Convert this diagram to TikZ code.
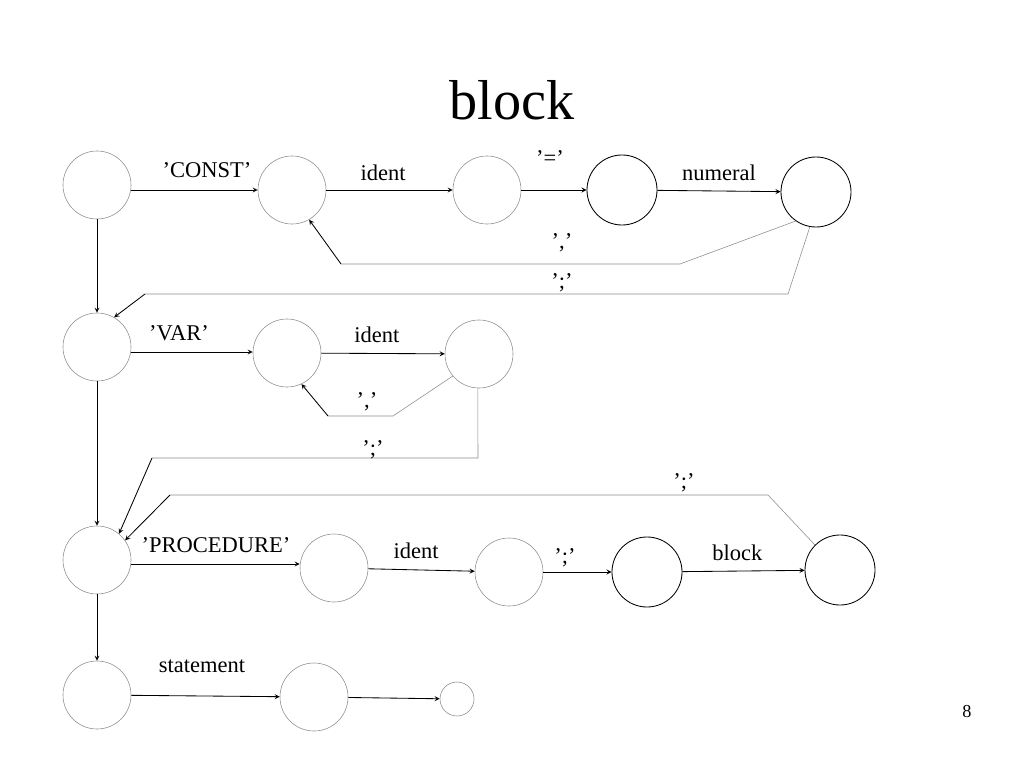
\documentclass[tikz,border=0pt]{standalone}
\usepackage{fontspec}
\setmainfont{Liberation Serif}
\tikzstyle{st} = [circle, draw=black!45, thin, minimum size=1.7cm, inner sep=0pt]
\tikzstyle{sb} = [circle, draw=black, semithick, minimum size=1.75cm, inner sep=0pt]
\tikzstyle{lbl} = [font=\fontsize{16}{18}\selectfont]
\tikzstyle{back} = [draw=black!45, thin]
\begin{document}
\begin{tikzpicture}[x=0.025cm,y=-0.025cm,->,>=stealth,semithick]
\useasboundingbox (0,0) rectangle (1024,768);
\node[font=\fontsize{40}{44}\selectfont] (title) at (512,100) {block};
\node[font=\fontsize{13}{15}\selectfont] (page) at (967,712) {8};

\node[st] (a1) at (97,185) {};
\node[st] (a2) at (292,190) {};
\node[st] (a3) at (487,190) {};
\node[sb] (a4) at (622,190) {};
\node[sb] (a5) at (816,192) {};

\node[st] (b1) at (97,347) {};
\node[st] (b2) at (287,353) {};
\node[st] (b3) at (479,354) {};

\node[st] (c1) at (97,560) {};
\node[st] (c2) at (334,568) {};
\node[st] (c3) at (509,572) {};
\node[sb] (c4) at (647,572) {};
\node[sb] (c5) at (840,570) {};

\node[st] (d1) at (97,695) {};
\node[st] (d2) at (314,697) {};
\node[st, minimum size=0.85cm] (d3) at (457,699) {};

% row 1
\draw (a1.east |- 0,190) -- (a2.west |- 0,190);
\node[lbl] (l1) at (207,170) {'CONST'};
\draw (a2) -- (a3) node[lbl, pos=0.45, above=3pt] {ident};
\draw (a3) -- (a4);
\node[lbl] (l2) at (550,158) {'='};
\draw (a4) -- (a5) node[lbl, pos=0.5, above=4pt] {numeral};
\coordinate (p1) at (680,264);
\coordinate (p2) at (341,264);
\draw[-,back] (a5.-125) -- (p1) -- (p2);
\draw (p2) -- (a2.-60);
\node[lbl] (l3) at (562,243) {','};
\coordinate (q1) at (788,294);
\coordinate (q2) at (145,294);
\draw[-,back] (a5.-100) -- (q1) -- (q2);
\draw (q2) -- (b1.60);
\node[lbl] (l4) at (562,283) {';'};
\draw (a1) -- (b1);

% row 2
\draw (b1.east |- 0,352) -- (b2.west |- 0,352);
\node[lbl] (l5) at (179,333) {'VAR'};
\draw (b2) -- (b3) node[lbl, pos=0.45, above=4pt] {ident};
\coordinate (r1) at (393,416);
\coordinate (r2) at (328,416);
\draw[-,back] (b3.-140) -- (r1) -- (r2);
\draw (r2) -- (b2.-65);
\node[lbl] (l6) at (367,402) {','};
\coordinate (s1) at (478,458);
\coordinate (s2) at (152,458);
\draw[-,back] (b3.-92) -- (s1) -- (s2);
\draw (s2) -- (c1.50);
\node[lbl] (l7) at (373,450) {';'};
\draw (b1) -- (c1);

% row 3
\coordinate (t1) at (768,495);
\coordinate (t2) at (170,495);
\draw[-,back] (c5.135) -- (t1) -- (t2);
\draw (t2) -- (c1.35);
\node[lbl] (l8) at (684,483) {';'};
\draw (c1.east |- 0,564) -- (c2.west |- 0,564);
\node[lbl] (l9) at (216,545) {'PROCEDURE'};
\draw (c2) -- (c3) node[lbl, pos=0.45, above=4pt] {ident};
\draw (c3) -- (c4);
\node[lbl] (l10) at (565,558) {';'};
\draw (c4) -- (c5) node[lbl, pos=0.45, above=4pt] {block};
\draw (c1) -- (d1);

% row 4
\draw (d1) -- (d2);
\node[lbl] (l11) at (202,666) {statement};
\draw (d2) -- (d3);
\end{tikzpicture}
\end{document}
